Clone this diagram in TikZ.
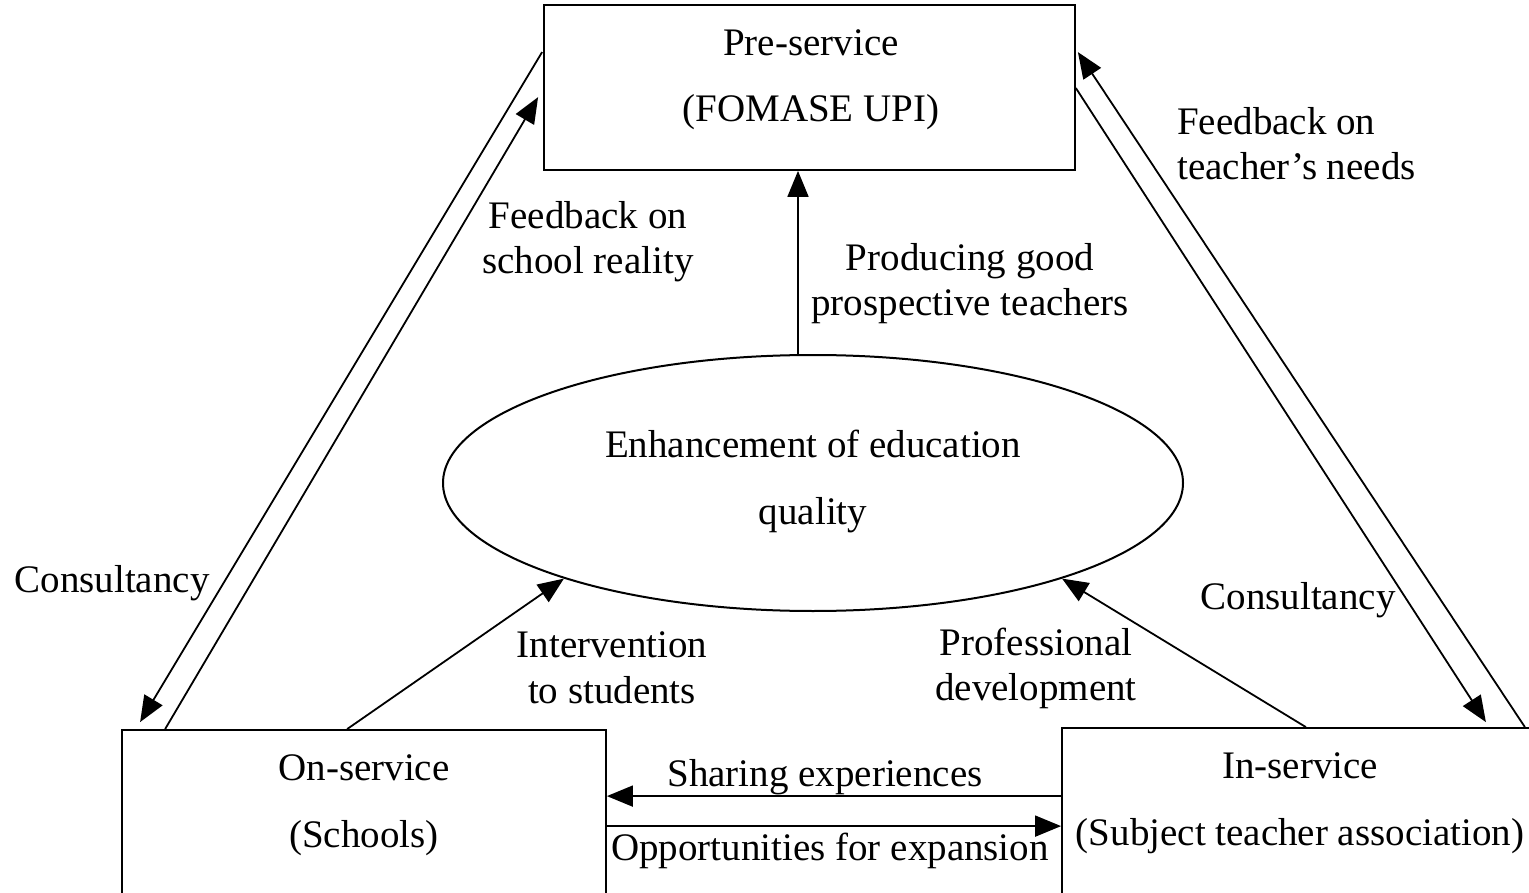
\documentclass[tikz,border=0pt]{standalone}
\usepackage{fontspec}
\setmainfont{Liberation Serif}
\usetikzlibrary{arrows.meta,shapes.geometric}
\begin{document}
\begin{tikzpicture}[x=1pt,y=-1pt,
  box/.style={draw,line width=1.8pt,rectangle,inner sep=0pt},
  txt/.style={font=\fontsize{39}{46}\selectfont,inner sep=0pt,anchor=base},
  arr/.style={line width=1.8pt,-{Triangle[length=26pt,width=21pt]}},
]
\useasboundingbox (0,0) rectangle (1529,893);
\clip (0,0) rectangle (1529,893);
\fill[white] (0,0) rectangle (1529,893);

% boxes and ellipse
\node[box,minimum width=531pt,minimum height=165pt] (pre) at (809.5,87.5) {};
\node[box,minimum width=484pt,minimum height=240pt] (on) at (364,850) {};
\node[box,minimum width=468pt,minimum height=240pt] (in) at (1296,848) {};
\node[draw,ellipse,line width=2pt,inner sep=0pt,minimum width=740pt,minimum height=256pt] (ell) at (813,483) {};

% box texts
\node[txt] (pre1) at (811,56) {Pre-service};
\node[txt] (pre2) at (811,122) {(FOMASE UPI)};
\node[txt] (on1) at (364,780) {On-service};
\node[txt] (on2) at (364,847) {(Schools)};
\node[txt] (in1) at (1300,778) {In-service};
\node[txt] (in2) at (1300,845) {(Subject teacher association)};
\node[txt] (ell1) at (813,457) {Enhancement of education};
\node[txt] (ell2) at (813,524) {quality};

% connector labels
\node[txt] (fb1a) at (588,229) {Feedback on};
\node[txt] (fb1b) at (588,274) {school reality};
\node[txt] (pg1) at (970,271) {Producing good};
\node[txt] (pg2) at (970,316) {prospective teachers};
\node[txt,anchor=base west] (fb2a) at (1177,135) {Feedback on};
\node[txt,anchor=base west] (fb2b) at (1177,180) {teacher’s needs};
\node[txt] (cons1) at (112,592) {Consultancy};
\node[txt] (cons2) at (1298,609) {Consultancy};
\node[txt] (int1) at (612,657) {Intervention};
\node[txt] (int2) at (612,703) {to students};
\node[txt] (prof1) at (1036,655) {Professional};
\node[txt] (prof2) at (1036,700) {development};
\node[txt] (share) at (825,786) {Sharing experiences};
\node[txt] (opp) at (830,860) {Opportunities for expansion};

% connectors
\draw[arr] ([xshift=-15pt]ell.north) -- ([xshift=-11.5pt]pre.south);
\draw[arr] ([xshift=-1pt,yshift=-48pt]pre.north west) -- ([xshift=19pt,yshift=7pt]on.north west);
\draw[arr] ([xshift=44pt]on.north west) -- ([xshift=-5pt,yshift=-93pt]pre.north west);
\draw[arr] ([xshift=-6pt]in.north east) -- ([xshift=2pt,yshift=-48pt]pre.north east);
\draw[arr] ([yshift=-84pt]pre.north east) -- ([xshift=-45pt,yshift=5pt]in.north east);
\draw[arr] ([xshift=226pt]on.north west) -- (ell.201);
\draw[arr] ([xshift=-225pt]in.north east) -- (ell.-21);
\draw[arr] ([yshift=-69pt]in.north west) coordinate (s1) -- (s1 -| on.east);
\draw[arr] ([yshift=-97pt]on.north east) coordinate (s2) -- (s2 -| in.west);
\end{tikzpicture}
\end{document}
